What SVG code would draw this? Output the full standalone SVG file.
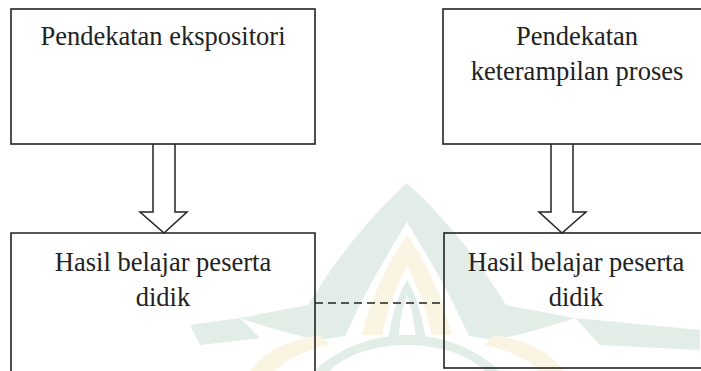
<svg xmlns="http://www.w3.org/2000/svg" width="701" height="371" viewBox="0 0 701 371">
<style>
.box{fill:none;stroke:#222;stroke-width:1.6}
.arrow{fill:#fff;stroke:#222;stroke-width:1.5;stroke-linejoin:miter}
.dash{stroke:#222;stroke-width:1.5;stroke-dasharray:8 5;fill:none}
.t{font-family:"Liberation Serif","Times New Roman",serif;font-size:26.5px;fill:#222;text-anchor:middle}
.wg{fill:#e3ede7}
.wy{fill:#faf4e3}
</style>
<rect width="701" height="371" fill="#fff"/>
<g id="watermark">
<path class="wg" d="M407,183 C375,212 338,255 308,305 L240,318 C275,330 300,336 320,340 L345,336 C365,292 385,258 407,222 C429,258 449,292 469,336 L494,340 C514,336 540,330 575,318 L506,305 C476,255 439,212 407,183 Z"/>
<path class="wy" d="M407,235 C388,262 372,295 362,335 L382,335 C390,302 398,282 407,266 C416,282 424,302 432,335 L452,335 C442,295 426,262 407,235 Z"/>
<path class="wg" d="M407,280 C398,295 392,315 388,340 L398,340 C400,320 403,305 407,295 C411,305 414,320 416,340 L426,340 C422,315 416,295 407,280 Z"/>
<path class="wg" d="M315,371 C340,345 380,335 407,335 C434,335 474,345 499,371 L485,371 C465,352 435,345 407,345 C379,345 349,352 329,371 Z"/>
<path class="wy" d="M250,371 C265,350 290,340 320,335 L330,345 C305,350 285,360 275,371 Z"/>
<path class="wy" d="M564,371 C549,350 524,340 494,335 L484,345 C509,350 529,360 539,371 Z"/>
<path class="wg" d="M575,318 L700,330 L700,350 L600,345 Z"/>
<path class="wg" d="M240,318 L190,325 L200,345 L260,338 Z"/>
</g>
<g id="connectors">
<path class="arrow" d="M153,144 L153,212 L140,212 L164,233 L187,212 L175,212 L175,144"/>
<path class="arrow" d="M551,144 L551,212 L539,212 L562,233 L586,212 L573,212 L573,144"/>
<line class="dash" x1="315" y1="303" x2="444" y2="303"/>
</g>
<g id="node-ekspositori">
<rect class="box" x="11" y="9" width="304" height="135"/>
<text class="t" x="163" y="45">Pendekatan ekspositori</text>
</g>
<g id="node-keterampilan">
<rect class="box" x="443" y="9" width="280" height="135"/>
<text class="t" x="577" y="45">Pendekatan</text>
<text class="t" x="577" y="80">keterampilan proses</text>
</g>
<g id="node-hasil-1">
<path class="box" d="M11,380 L11,233 L315,233 L315,380"/>
<text class="t" x="163" y="271">Hasil belajar peserta</text>
<text class="t" x="163" y="306">didik</text>
</g>
<g id="node-hasil-2">
<rect class="box" x="444" y="233" width="280" height="135"/>
<text class="t" x="576" y="271">Hasil belajar peserta</text>
<text class="t" x="576" y="306">didik</text>
</g>
</svg>
